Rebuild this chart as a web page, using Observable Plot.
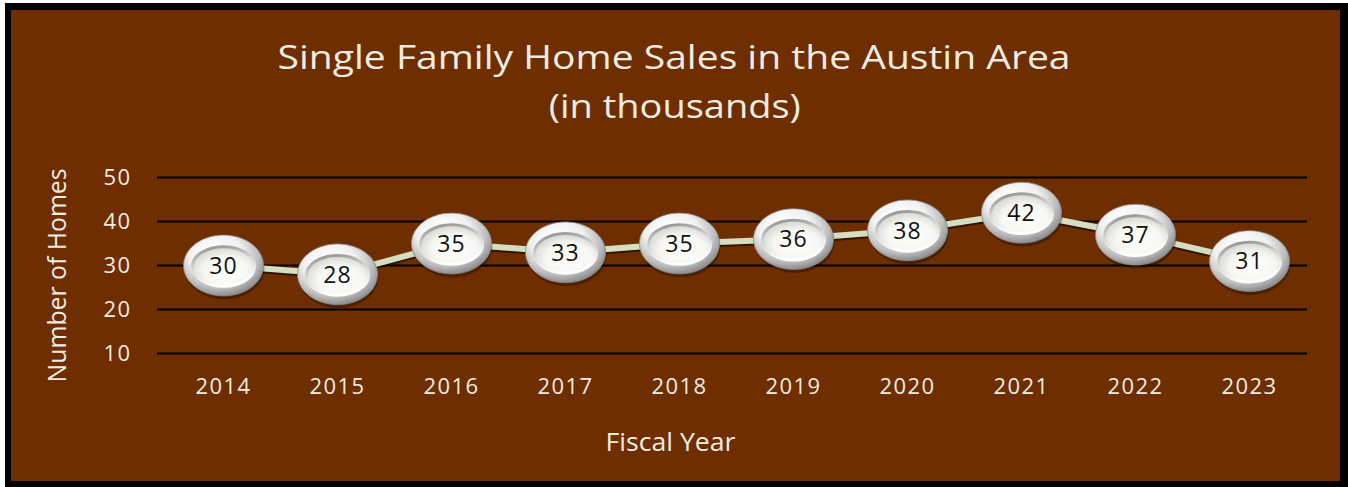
<!DOCTYPE html>
<html><head><meta charset="utf-8">
<script src="https://cdn.jsdelivr.net/npm/d3@7"></script>
<script src="https://cdn.jsdelivr.net/npm/@observablehq/plot@0.6"></script>
<style>
html,body{margin:0;padding:0;background:#fff;}
body{position:relative;width:1348px;height:487px;overflow:hidden;font-family:"Open Sans",Lato,sans-serif;}
#frame{position:absolute;left:5px;top:3px;width:1343px;height:484px;background:#000;}
#panel{position:absolute;left:11px;top:10px;width:1329px;height:471px;background:#6E2E00;}
#chart{position:absolute;left:0;top:0;}
.t{position:absolute;color:#EEECE1;white-space:nowrap;line-height:1;font-family:"Open Sans",sans-serif;}
#chart g[aria-label="x-axis tick label"] text{letter-spacing:1.4px;}
#chart g[aria-label="y-axis tick label"] text{letter-spacing:1.4px;}
#chart g[aria-label="text"] text{letter-spacing:1.2px;}
</style></head><body>
<div id="frame"></div><div id="panel"></div>
<div id="chart"></div>
<div id="t1" class="t">Single Family Home Sales in the Austin Area</div>
<div id="t2" class="t">(in thousands)</div>
<div id="ty" class="t">Number of Homes</div>
<div id="tx" class="t">Fiscal Year</div>
<script>
const years = ["2014","2015","2016","2017","2018","2019","2020","2021","2022","2023"];
const sales = [30, 28, 35, 33, 35, 36, 38, 42, 37, 31];
const yTicks = [10, 20, 30, 40, 50];

const data = years.map((y, i) => ({year: y, value: sales[i]}));

function ellipse(ratio) {
  return {
    draw(ctx, size) {
      const rx = Math.sqrt(size / Math.PI), ry = rx * ratio, k = 0.5523;
      ctx.moveTo(rx, 0);
      ctx.bezierCurveTo(rx, k * ry, k * rx, ry, 0, ry);
      ctx.bezierCurveTo(-k * rx, ry, -rx, k * ry, -rx, 0);
      ctx.bezierCurveTo(-rx, -k * ry, -k * rx, -ry, 0, -ry);
      ctx.bezierCurveTo(k * rx, -ry, rx, -k * ry, rx, 0);
      ctx.closePath();
    }
  };
}

const plot = Plot.plot({
  width: 1348,
  height: 487,
  marginLeft: 157,
  marginRight: 41,
  marginTop: 177,
  marginBottom: 134,
  style: {background: "transparent", fontFamily: "'Open Sans', sans-serif"},
  x: {type: "point", domain: years, padding: 0, insetLeft: 65, insetRight: 57, label: null},
  y: {domain: [10, 50], ticks: yTicks, label: null},
  marks: [
    Plot.ruleY(yTicks, {stroke: "#000", strokeWidth: 2}),
    Plot.axisY({ticks: yTicks, tickSize: 0, tickPadding: 26, fontSize: 22, fill: "#EEECE1", label: null}),
    Plot.axisX({tickSize: 0, tickPadding: 25, fontSize: 22, fill: "#EEECE1", label: null}),
    Plot.line(data, {x: "year", y: "value", stroke: "#000", strokeOpacity: 0.55, strokeWidth: 6, dy: 2}),
    Plot.line(data, {x: "year", y: "value", stroke: "#D5DEC0", strokeWidth: 6}),
    Plot.dot(data, {x: "year", y: "value", r: 40, symbol: ellipse(0.77), fill: "#000", fillOpacity: 0.3, dy: 3, dx: 1}),
    Plot.dot(data, {x: "year", y: "value", r: 40, symbol: ellipse(0.76), fill: "url(#outerG)", stroke: "#8a8a8a", strokeWidth: 0.8}),
    Plot.dot(data, {x: "year", y: "value", r: 31, symbol: ellipse(0.64), fill: "url(#innerG)", stroke: "url(#rimG)", strokeWidth: 3, dy: 1}),
    Plot.text(data, {x: "year", y: "value", text: d => String(d.value), fontSize: 23, fill: "#111", dy: 1})
  ]
});

const ns = "http://www.w3.org/2000/svg";
const defs = document.createElementNS(ns, "defs");
defs.innerHTML = `
<radialGradient id="outerG" cx="45%" cy="40%" r="62%" fx="35%" fy="22%">
  <stop offset="0%" stop-color="#ffffff"/>
  <stop offset="55%" stop-color="#f0f0f0"/>
  <stop offset="82%" stop-color="#bdbdbd"/>
  <stop offset="100%" stop-color="#858585"/>
</radialGradient>
<radialGradient id="innerG" cx="55%" cy="62%" r="62%">
  <stop offset="0%" stop-color="#ffffff"/>
  <stop offset="60%" stop-color="#f6f7f2"/>
  <stop offset="100%" stop-color="#d4d5cf"/>
</radialGradient>
<linearGradient id="rimG" x1="0" y1="0" x2="0.3" y2="1">
  <stop offset="0%" stop-color="#8a8a8a"/>
  <stop offset="50%" stop-color="#d6d6d6"/>
  <stop offset="100%" stop-color="#ffffff"/>
</linearGradient>`;
plot.insertBefore(defs, plot.firstChild);
document.getElementById("chart").appendChild(plot);

// place text: cap-centre at (cx, cy), cap height -> font size, stretch to target width
function place(id, cx, cy, capH, targetW, rotate) {
  const el = document.getElementById(id);
  const fs = capH / 0.714;
  el.style.fontSize = fs + "px";
  const w = el.getBoundingClientRect().width;
  const sx = targetW / w;
  el.style.left = (cx - w / 2) + "px";
  el.style.top = (cy - 0.531 * fs) + "px";
  el.style.transformOrigin = `${w / 2}px ${0.531 * fs}px`;
  el.style.transform = (rotate ? `rotate(${rotate}deg) ` : "") + `scaleX(${sx})`;
}
place("t1", 674.5, 58.5, 23, 793);
place("t2", 674.5, 107, 23, 252);
place("ty", 58, 275, 18, 214, -90);
place("tx", 670, 442, 18, 130);
</script>
</body></html>
